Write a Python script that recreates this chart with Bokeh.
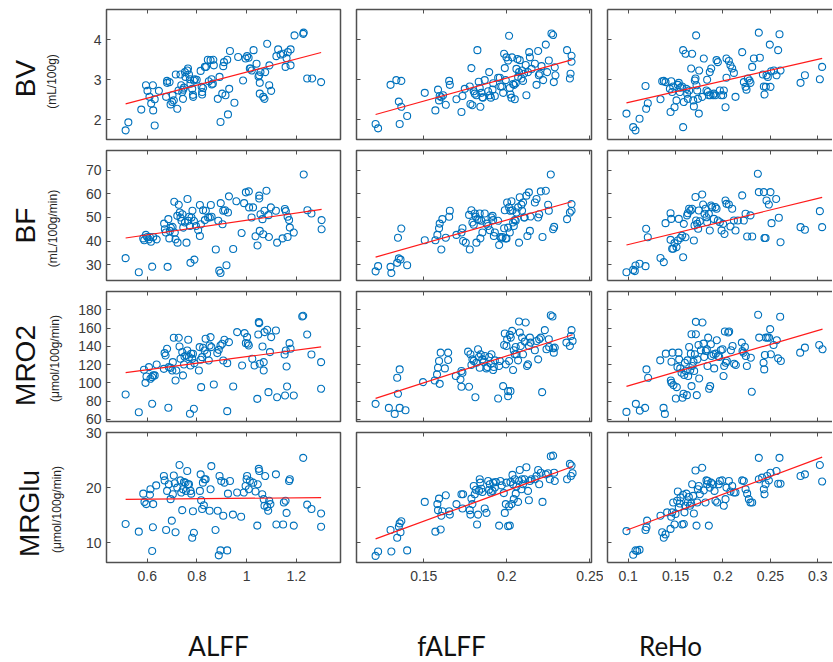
import numpy as np
from bokeh.plotting import figure
from bokeh.models import Range1d, LinearAxis, FixedTicker, CustomLabelingPolicy
from bokeh.layouts import row, column
from bokeh.core.properties import value
from bokeh.embed import file_html
from bokeh.resources import INLINE

# ---------------- labels / ticks ----------------
row_names = ["BV", "BF", "MRO2", "MRGlu"]
row_units = ["(mL/100g)", "(mL/100g/min)", "(\u03bcmol/100g/min)", "(\u03bcmol/100g/min)"]
col_names = ["ALFF", "fALFF", "ReHo"]

x_ticks = [[0.6, 0.8, 1.0, 1.2], [0.15, 0.2, 0.25], [0.1, 0.15, 0.2, 0.25, 0.3]]
x_tick_labels = [["0.6", "0.8", "1", "1.2"], ["0.15", "0.2", "0.25"], ["0.1", "0.15", "0.2", "0.25", "0.3"]]
y_ticks = [[2, 3, 4], [30, 40, 50, 60, 70], [60, 80, 100, 120, 140, 160, 180], [10, 20, 30]]
y_tick_labels = [["2", "3", "4"], ["30", "40", "50", "60", "70"],
                 ["60", "80", "100", "120", "140", "160", "180"], ["10", "20", "30"]]
x_limits = [(0.436, 1.378), (0.1095, 0.251), (0.0782, 0.3155)]
y_limits = [(1.5, 4.76), (23.2, 78.5), (57.8, 200.0), (6.4, 30.0)]

# ---------------- data: row BV ----------------
bv_alff_x = [0.513,0.524,0.576,0.595,0.601,0.609,0.616,0.623,0.624,0.630,
             0.630,0.647,0.676,0.680,0.680,0.690,0.694,0.701,0.702,0.707,
             0.715,0.721,0.726,0.734,0.737,0.741,0.744,0.745,0.748,0.752,
             0.754,0.761,0.764,0.768,0.772,0.774,0.781,0.784,0.785,0.788,
             0.792,0.799,0.815,0.819,0.821,0.821,0.825,0.832,0.837,0.844,
             0.848,0.855,0.859,0.860,0.864,0.866,0.868,0.884,0.891,0.895,
             0.902,0.906,0.909,0.915,0.922,0.925,0.930,0.933,0.951,0.966,
             0.986,0.996,1.002,1.008,1.013,1.016,1.021,1.028,1.040,1.048,
             1.051,1.053,1.053,1.056,1.067,1.072,1.075,1.083,1.091,1.092,
             1.099,1.120,1.127,1.137,1.147,1.157,1.161,1.166,1.177,1.177,
             1.193,1.228,1.230,1.244,1.264,1.300]
bv_alff_y = [1.73,1.93,2.25,2.86,2.72,2.57,2.40,2.86,2.23,2.51,
             1.85,2.72,2.57,2.97,2.92,2.94,2.38,2.44,2.61,2.48,
             3.13,2.27,2.73,3.13,2.86,2.69,2.52,2.75,2.80,3.19,
             3.07,3.23,3.28,3.13,3.01,2.90,2.77,2.62,2.57,2.98,
             3.01,3.00,3.22,2.82,2.69,2.63,2.79,3.32,3.32,3.50,
             2.96,3.49,3.01,2.88,2.90,3.50,3.36,2.52,3.07,1.94,
             2.65,3.34,3.44,2.61,3.50,2.13,2.77,3.72,2.42,3.57,
             2.98,3.53,3.59,3.55,3.28,3.28,3.23,3.74,3.40,3.08,
             3.11,2.92,2.65,3.19,2.57,2.52,3.19,3.90,2.86,3.36,
             2.72,3.59,3.76,3.63,3.65,3.32,3.54,3.69,3.36,3.76,
             4.11,4.15,4.18,3.03,3.03,2.94]

bv_falff_x = [0.121,0.1225,0.130,0.1335,0.135,0.1355,0.1365,0.1365,0.140,0.1506,
              0.157,0.1586,0.1592,0.1596,0.1606,0.1616,0.1633,0.1653,0.1657,0.1697,
              0.1727,0.1733,0.1747,0.1777,0.1781,0.1787,0.1793,0.1801,0.1807,0.1817,
              0.1823,0.1831,0.1837,0.1841,0.1847,0.1853,0.1857,0.1867,0.1888,0.1894,
              0.1898,0.1904,0.1914,0.1918,0.1928,0.1948,0.1958,0.1962,0.1972,0.1978,
              0.1984,0.1988,0.1994,0.1998,0.2008,0.2014,0.2018,0.2022,0.2028,0.2032,
              0.2038,0.2044,0.2048,0.2054,0.2058,0.2064,0.2068,0.2074,0.2078,0.2088,
              0.2092,0.2098,0.2104,0.2114,0.2118,0.2128,0.2135,0.2139,0.2149,0.2169,
              0.2179,0.2189,0.2193,0.2199,0.2209,0.2219,0.2235,0.2243,0.2253,0.2269,
              0.2279,0.2283,0.2289,0.2293,0.2363,0.2380,0.2384,0.2390,0.2390]
bv_falff_y = [1.89,1.78,2.87,2.99,2.45,1.89,2.97,2.32,2.09,2.67,
              2.23,2.75,2.48,2.59,2.56,2.61,2.37,2.97,2.87,2.51,
              2.19,2.59,2.77,2.83,2.39,3.29,2.36,2.71,2.65,2.61,
              3.74,2.95,2.79,2.32,2.67,2.56,2.55,2.99,2.71,3.19,
              2.61,2.55,2.75,2.91,2.59,3.05,3.05,2.83,2.83,2.67,
              3.65,3.29,2.99,3.56,3.48,4.10,2.79,2.63,2.55,3.56,
              2.89,2.87,2.51,2.91,3.27,3.52,3.07,3.19,3.49,3.03,
              3.23,2.97,3.15,3.37,2.61,3.19,3.69,3.56,3.27,3.40,
              2.87,3.72,3.11,3.15,3.34,2.99,3.88,3.19,3.48,4.16,
              4.12,2.94,3.31,3.11,3.74,3.03,3.15,3.60,3.45]

bv_reho_x = [0.0982,0.1053,0.1077,0.112,0.1183,0.119,0.1207,0.1341,0.1359,0.1376,
             0.1394,0.144,0.1447,0.1454,0.1464,0.1475,0.1489,0.151,0.1524,0.1534,
             0.1545,0.1552,0.157,0.158,0.158,0.1587,0.1605,0.1615,0.1622,0.1629,
             0.1643,0.1665,0.1675,0.1686,0.1693,0.1703,0.171,0.1717,0.1721,0.1728,
             0.1735,0.1745,0.1749,0.1781,0.1798,0.1826,0.1833,0.184,0.1851,0.1861,
             0.1868,0.1876,0.1897,0.1904,0.1921,0.1932,0.1946,0.1967,0.1981,0.2002,
             0.2009,0.2027,0.2037,0.2037,0.2062,0.2079,0.2097,0.2115,0.2132,0.2203,
             0.222,0.2238,0.2248,0.2262,0.228,0.229,0.2308,0.2326,0.2378,0.2389,
             0.2421,0.2431,0.2438,0.2452,0.2459,0.2473,0.2494,0.2501,0.2508,0.2537,
             0.2565,0.2582,0.2596,0.2607,0.2818,0.2864,0.3022,0.3046]
bv_reho_y = [2.15,1.81,1.73,2.02,2.84,2.27,2.41,2.51,2.96,2.97,
             2.94,2.77,2.19,2.96,2.69,2.83,2.31,2.48,2.87,2.92,
             2.69,2.80,2.83,3.74,1.81,2.44,3.65,2.77,2.65,2.52,
             2.73,3.28,3.65,2.48,2.33,2.98,3.03,4.11,2.86,2.73,
             2.52,2.15,3.23,2.57,3.53,2.73,3.00,2.69,2.61,3.19,
             2.61,3.28,2.61,2.65,2.61,3.49,3.44,2.73,2.61,2.61,
             2.73,2.31,3.53,3.05,3.47,3.36,3.28,3.17,2.57,3.69,
             2.94,2.82,2.75,3.03,2.98,2.92,3.32,3.53,4.18,3.55,
             3.13,2.83,2.63,2.82,3.11,3.07,3.88,2.82,3.21,3.23,
             3.11,3.74,4.14,3.23,2.92,3.11,3.01,3.32]

# ---------------- data: row BF ----------------
bf_alff_x = [0.513,0.566,0.584,0.588,0.595,0.600,0.607,0.611,0.615,0.620,
             0.624,0.638,0.668,0.671,0.675,0.682,0.685,0.689,0.691,0.695,
             0.702,0.709,0.711,0.714,0.721,0.722,0.727,0.731,0.734,0.738,
             0.742,0.745,0.752,0.758,0.762,0.765,0.769,0.772,0.774,0.778,
             0.782,0.788,0.790,0.796,0.805,0.812,0.812,0.816,0.825,0.832,
             0.836,0.845,0.852,0.856,0.859,0.876,0.886,0.890,0.895,0.896,
             0.903,0.906,0.913,0.919,0.925,0.929,0.946,0.959,0.980,0.990,
             0.997,1.009,1.010,1.020,1.026,1.036,1.044,1.051,1.051,1.053,
             1.056,1.064,1.067,1.072,1.080,1.088,1.090,1.098,1.118,1.123,
             1.145,1.154,1.158,1.165,1.165,1.171,1.174,1.190,1.230,1.245,
             1.261,1.302,1.302]
bf_alff_y = [32.7,26.7,41.1,40.3,42.6,41.7,40.7,41.7,39.7,29.1,
             41.7,40.7,47.4,45.0,43.6,29.0,49.3,41.1,44.3,45.7,
             46.0,56.7,43.6,40.7,50.7,39.3,55.4,52.1,50.0,48.6,
             51.4,45.7,47.9,39.3,57.9,48.6,50.3,46.4,30.7,50.0,
             52.9,48.6,32.1,46.4,44.6,55.3,42.1,47.1,53.1,48.9,
             52.9,50.0,50.0,55.3,50.3,36.4,48.6,27.4,26.4,56.1,
             47.1,52.9,53.1,29.7,52.1,59.0,36.6,56.9,43.4,56.1,
             60.7,61.1,54.3,50.0,54.3,42.0,38.1,59.3,58.1,44.3,
             51.4,49.3,42.9,52.9,61.4,51.0,41.7,54.3,52.9,39.3,
             41.1,53.6,52.7,50.3,41.7,48.9,45.7,43.6,68.3,53.1,
             51.7,48.9,45.0]

bf_falff_x = [0.121,0.1225,0.130,0.1305,0.1345,0.134,0.135,0.136,0.1365,0.140,
              0.1506,0.157,0.1582,0.1592,0.1596,0.1606,0.1612,0.1633,0.1653,0.1657,
              0.1697,0.1727,0.1733,0.1737,0.1753,0.1777,0.1773,0.1787,0.1793,0.1801,
              0.1807,0.1813,0.1817,0.1823,0.1833,0.1837,0.1841,0.1847,0.1853,0.1867,
              0.1878,0.1888,0.1898,0.1908,0.1914,0.1918,0.1922,0.1928,0.1948,0.1954,
              0.1962,0.1968,0.1974,0.1984,0.1988,0.1994,0.1998,0.2002,0.2008,0.2014,
              0.2018,0.2022,0.2028,0.2034,0.2038,0.2042,0.2048,0.2054,0.2058,0.2068,
              0.2074,0.2078,0.2088,0.2092,0.2098,0.2104,0.2108,0.2118,0.2124,0.2133,
              0.2139,0.2143,0.2169,0.2179,0.2189,0.2195,0.2205,0.2215,0.2235,0.2249,
              0.2253,0.2265,0.2279,0.2285,0.2363,0.2380,0.2390,0.2390]
bf_falff_y = [27.1,29.3,29.0,26.4,41.4,30.7,32.6,32.1,45.3,29.7,
              40.3,40.3,42.6,45.4,47.4,36.4,49.3,41.4,50.3,52.9,
              42.6,43.6,45.4,40.0,39.3,36.4,51.1,53.1,47.9,46.9,
              51.7,50.3,39.3,49.3,48.9,51.7,41.1,48.6,43.6,51.7,
              47.4,46.4,44.6,50.0,50.7,48.9,42.1,43.6,48.6,38.3,
              41.7,41.1,41.7,45.4,53.1,41.1,41.1,56.4,45.7,54.3,
              43.6,52.9,56.9,53.1,47.9,46.4,48.9,48.6,52.1,54.3,
              39.3,58.6,55.4,52.9,56.4,50.0,50.0,59.3,42.1,60.7,
              44.3,50.4,56.4,57.9,50.0,51.4,61.1,41.7,61.4,55.4,
              52.9,68.3,45.0,46.0,49.3,52.1,55.7,52.9]

bf_reho_x = [0.0982,0.1053,0.107,0.1077,0.112,0.1183,0.119,0.1207,0.1341,0.1376,
             0.1394,0.1447,0.1454,0.1447,0.1464,0.1475,0.1489,0.151,0.1524,0.1534,
             0.1552,0.157,0.158,0.1587,0.1605,0.1622,0.1629,0.1643,0.1658,0.1675,
             0.1693,0.170,0.171,0.1717,0.1728,0.1738,0.1745,0.1756,0.1781,0.1791,
             0.1805,0.1816,0.1826,0.1833,0.1851,0.1861,0.1876,0.1886,0.1904,0.1921,
             0.1932,0.1946,0.1967,0.1985,0.2002,0.2016,0.2027,0.2037,0.2062,0.2079,
             0.2097,0.2115,0.2132,0.2157,0.2203,0.222,0.2238,0.2255,0.229,0.2308,
             0.2368,0.2378,0.2431,0.2438,0.2449,0.2459,0.2484,0.2501,0.2512,0.2561,
             0.2589,0.2607,0.2818,0.2864,0.3022,0.3046]
bf_reho_y = [26.7,27.7,27.2,29.6,30.3,29.3,45.2,41.6,32.8,31.0,
             47.6,51.8,49.4,40.5,36.7,36.7,39.1,37.4,40.2,49.4,
             41.3,42.3,33.1,47.3,41.6,50.9,51.8,53.7,53.0,53.7,
             40.2,46.6,58.7,48.7,47.3,45.2,53.0,48.4,59.8,55.5,
             51.6,53.7,50.1,48.0,51.6,44.5,55.1,54.4,49.4,54.4,
             53.7,48.7,48.0,44.5,47.3,43.0,57.2,55.8,55.5,46.2,
             53.7,48.7,44.5,48.7,59.4,48.7,51.6,41.9,50.9,41.9,
             68.6,60.8,60.8,41.3,41.3,57.2,55.5,60.8,47.6,57.9,
             49.9,39.5,45.9,44.8,52.7,45.9]

# ---------------- data: row MRO2 ----------------
mro2_alff_x = [0.513,0.566,0.587,0.593,0.597,0.607,0.613,0.620,0.620,0.624,
               0.630,0.638,0.667,0.670,0.674,0.680,0.685,0.687,0.694,0.701,
               0.703,0.707,0.714,0.717,0.727,0.730,0.734,0.741,0.744,0.748,
               0.750,0.757,0.761,0.765,0.768,0.772,0.774,0.777,0.781,0.784,
               0.788,0.790,0.808,0.811,0.815,0.817,0.821,0.825,0.831,0.835,
               0.841,0.848,0.851,0.855,0.858,0.868,0.882,0.888,0.895,0.902,
               0.906,0.911,0.922,0.922,0.929,0.946,0.962,0.982,0.992,0.997,
               1.002,1.005,1.009,1.023,1.032,1.043,1.047,1.049,1.051,1.053,
               1.064,1.069,1.069,1.072,1.083,1.088,1.094,1.099,1.118,1.123,
               1.153,1.155,1.158,1.161,1.163,1.173,1.177,1.190,1.224,1.228,
               1.244,1.261,1.300,1.300]
mro2_alff_y = [87.4,68.0,114.4,100.1,107.1,117.3,104.5,106.3,77.2,108.2,
               108.2,120.2,115.4,132.6,130.0,137.3,72.8,117.3,116.5,113.6,
               122.7,149.4,102.7,113.6,149.4,139.9,126.4,133.7,108.2,120.2,
               128.9,130.0,135.5,147.2,128.2,66.2,119.1,131.9,126.4,131.9,
               71.7,121.6,113.6,139.2,125.3,95.4,128.2,138.4,135.5,148.3,
               131.9,124.6,141.0,150.1,139.2,98.3,132.6,136.2,141.0,142.8,
               124.6,147.2,121.6,69.1,144.6,96.1,155.6,119.1,154.5,143.5,
               150.1,142.8,141.0,126.4,119.1,82.6,153.0,166.5,165.4,120.9,
               139.9,113.6,122.7,155.6,158.1,89.9,133.7,150.1,157.4,84.4,
               131.1,86.3,135.5,118.0,96.1,143.5,137.3,86.3,172.7,173.4,
               153.0,131.1,122.7,93.6]

mro2_falff_x = [0.121,0.129,0.1325,0.134,0.1345,0.1355,0.1355,0.139,0.1496,0.1566,
                0.158,0.1586,0.1592,0.1596,0.1602,0.1627,0.1647,0.1647,0.1693,0.1721,
                0.1727,0.1733,0.1727,0.1773,0.1767,0.1781,0.1787,0.1793,0.1801,0.1811,
                0.1817,0.1827,0.1833,0.1837,0.1843,0.1853,0.1861,0.1867,0.1878,0.1884,
                0.1894,0.1904,0.1908,0.1918,0.1922,0.1928,0.1948,0.1954,0.1958,0.1978,
                0.1984,0.1988,0.1994,0.1998,0.2002,0.2008,0.2008,0.2014,0.2018,0.2022,
                0.2024,0.2032,0.2038,0.2042,0.2048,0.2054,0.2058,0.2068,0.2074,0.2078,
                0.2084,0.2092,0.2098,0.2108,0.2114,0.2122,0.2128,0.2133,0.2139,0.2143,
                0.2169,0.2179,0.2189,0.2195,0.2205,0.2213,0.2229,0.2239,0.2253,0.2255,
                0.2265,0.2275,0.2279,0.2283,0.2289,0.2359,0.2380,0.2386,0.2390,0.2396]
mro2_falff_y = [77.1,72.7,66.1,105.6,88.1,114.8,72.7,70.1,100.9,102.7,
                109.3,116.6,124.0,99.0,133.1,115.9,133.1,125.1,107.5,103.8,
                113.0,111.1,95.8,95.8,134.2,131.3,119.6,125.8,124.0,84.4,
                122.1,136.8,128.4,116.6,131.3,125.8,123.2,129.5,115.9,117.4,
                128.4,121.0,131.3,114.1,117.4,124.7,82.9,118.5,124.0,96.5,
                141.5,154.0,120.3,140.4,147.8,91.0,85.5,124.0,152.5,91.0,
                149.6,156.9,114.1,135.7,131.3,139.3,131.3,124.7,167.2,155.1,
                140.4,149.6,131.3,145.2,166.1,118.5,120.3,140.4,149.6,144.1,
                135.7,145.9,125.8,147.8,149.6,89.9,157.7,136.8,147.8,139.3,
                174.1,172.7,137.9,133.1,138.6,144.1,140.4,151.4,157.7,145.9]

mro2_reho_x = [0.0982,0.1081,0.1123,0.1179,0.1193,0.1211,0.1338,0.1373,0.1387,0.1397,
               0.145,0.1457,0.1457,0.1468,0.1478,0.1503,0.1513,0.152,0.1531,0.1538,
               0.1549,0.1563,0.1573,0.1584,0.1591,0.1598,0.1608,0.1619,0.1626,0.1633,
               0.1643,0.1654,0.1661,0.1668,0.1668,0.1679,0.1689,0.1696,0.1703,0.1714,
               0.1714,0.1724,0.1731,0.1742,0.1749,0.1767,0.1784,0.1795,0.1802,0.1819,
               0.183,0.1837,0.1844,0.1854,0.1865,0.1872,0.1879,0.19,0.1907,0.1925,
               0.1935,0.1949,0.196,0.1977,0.1995,0.2006,0.2013,0.202,0.203,0.2041,
               0.2055,0.2065,0.2083,0.2101,0.2118,0.2136,0.2199,0.2206,0.2217,0.2231,
               0.2241,0.2252,0.2294,0.2304,0.2371,0.2382,0.2428,0.2435,0.2442,0.2452,
               0.247,0.2487,0.2498,0.2505,0.2533,0.2568,0.2582,0.2603,0.261,0.2814,
               0.2864,0.3015,0.305]
mro2_reho_y = [68.3,77.1,69.7,72.7,114.8,105.6,124.7,72.7,66.1,132.0,
               102.7,100.1,123.2,133.1,97.6,82.9,95.4,117.4,133.1,125.8,
               115.9,111.1,83.7,88.1,108.6,122.1,113.0,86.6,124.7,107.5,
               139.3,113.7,132.0,153.3,96.5,118.5,123.2,113.0,131.3,166.8,
               153.3,86.6,125.8,141.5,104.9,135.7,166.1,143.0,128.4,134.9,
               136.8,118.5,149.6,93.6,96.5,142.3,129.5,131.3,115.9,132.0,
               146.7,129.5,128.4,135.7,136.8,107.5,118.5,156.2,122.1,124.0,
               155.1,156.2,135.7,140.4,121.0,119.6,144.1,134.9,133.1,139.3,
               129.5,118.5,127.6,90.3,174.5,149.6,122.1,114.8,130.5,149.6,
               149.6,149.6,158.8,131.3,141.5,146.7,126.9,172.3,124.0,133.1,
               138.6,141.5,136.8]

# ---------------- data: row MRGlu ----------------
mrglu_alff_x = [0.513,0.566,0.584,0.589,0.596,0.611,0.613,0.620,0.623,0.624,
                0.636,0.667,0.670,0.676,0.680,0.687,0.694,0.699,0.703,0.707,
                0.711,0.714,0.721,0.730,0.734,0.737,0.741,0.744,0.748,0.754,
                0.756,0.761,0.764,0.768,0.774,0.777,0.781,0.784,0.788,0.812,
                0.815,0.817,0.821,0.824,0.828,0.831,0.835,0.851,0.855,0.858,
                0.875,0.884,0.888,0.891,0.895,0.898,0.906,0.911,0.922,0.925,
                0.933,0.945,0.962,0.978,0.989,0.996,1.000,1.002,1.009,1.013,
                1.027,1.036,1.043,1.045,1.049,1.051,1.063,1.069,1.072,1.075,
                1.083,1.087,1.091,1.096,1.118,1.120,1.147,1.150,1.157,1.161,
                1.171,1.174,1.190,1.228,1.244,1.261,1.300,1.300]
mrglu_alff_y = [13.4,12.0,18.9,17.4,17.0,18.7,19.7,8.5,12.8,17.0,
                20.4,22.1,21.3,12.3,19.4,20.6,17.9,14.0,18.8,22.2,
                20.8,11.9,20.0,24.1,21.3,19.1,15.9,19.7,21.0,20.9,
                19.4,23.0,20.6,20.6,19.4,18.9,10.9,15.7,11.8,19.4,
                22.4,17.7,16.1,20.9,16.8,21.5,21.5,15.8,19.7,23.9,
                12.3,15.8,7.7,22.1,8.6,21.2,14.9,20.9,8.6,18.9,
                21.2,15.1,19.1,14.7,19.1,20.3,21.5,22.1,19.7,21.2,
                20.9,19.3,13.1,20.6,23.4,23.0,18.8,17.9,16.7,22.1,
                16.5,15.8,17.6,17.0,22.4,13.3,13.3,17.3,17.6,15.4,
                21.2,21.5,13.1,25.4,16.9,16.1,15.3,12.9]

mrglu_falff_x = [0.121,0.1225,0.130,0.1305,0.134,0.135,0.1355,0.136,0.1365,0.140,
                 0.1506,0.157,0.1582,0.1586,0.1592,0.1602,0.1606,0.1612,0.1633,0.1653,
                 0.1657,0.1697,0.1727,0.1733,0.1737,0.1777,0.1781,0.1787,0.1793,0.1801,
                 0.1807,0.1813,0.1821,0.1827,0.1833,0.1837,0.1841,0.1847,0.1853,0.1867,
                 0.1878,0.1888,0.1894,0.1898,0.1904,0.1914,0.1918,0.1928,0.1934,0.1954,
                 0.1962,0.1970,0.1982,0.1988,0.1994,0.1998,0.2008,0.2014,0.2018,0.2022,
                 0.2028,0.2034,0.2038,0.2042,0.2048,0.2054,0.2058,0.2068,0.2074,0.2078,
                 0.2088,0.2092,0.2098,0.2108,0.2118,0.2128,0.2133,0.2139,0.2149,0.2169,
                 0.2179,0.2189,0.2195,0.2205,0.2215,0.2235,0.2249,0.2259,0.2265,0.2279,
                 0.2285,0.2289,0.2363,0.2380,0.2386,0.2390,0.2396]
mrglu_falff_y = [7.6,8.4,12.3,8.4,10.9,12.9,13.5,11.9,13.9,8.6,
                 17.4,12.0,17.0,15.9,18.0,12.4,14.9,15.7,18.6,15.7,
                 15.1,17.0,18.8,16.2,18.8,15.9,15.1,18.0,17.0,20.3,
                 18.8,19.6,13.3,15.1,19.4,21.5,20.9,19.8,19.2,16.2,
                 15.4,21.2,19.6,20.6,19.1,19.4,20.9,20.0,21.0,13.1,
                 21.2,20.4,19.0,15.4,17.0,20.9,13.0,16.6,13.1,21.0,
                 17.0,22.3,20.6,17.9,21.5,18.9,20.2,17.4,21.2,23.2,
                 19.7,21.5,20.6,21.5,23.7,19.4,17.7,21.2,21.5,21.5,
                 22.1,23.2,20.6,22.7,17.4,22.4,22.6,21.5,25.7,25.8,
                 22.7,21.2,21.5,24.3,22.1,24.0,22.6]

mrglu_reho_x = [0.0982,0.1053,0.1077,0.1095,0.112,0.1183,0.1193,0.12,0.1341,0.1359,
                0.1376,0.1394,0.1411,0.1447,0.1454,0.1464,0.1475,0.1489,0.1499,0.1517,
                0.1524,0.1534,0.1545,0.1552,0.157,0.158,0.1587,0.1594,0.1605,0.1615,
                0.1629,0.164,0.1651,0.1665,0.1675,0.1686,0.1693,0.171,0.1721,0.1728,
                0.1735,0.1745,0.1756,0.1781,0.1798,0.1816,0.1826,0.1833,0.184,0.1851,
                0.1861,0.1876,0.1897,0.1911,0.1921,0.1939,0.1956,0.1967,0.1992,0.2009,
                0.2027,0.2037,0.2062,0.2079,0.2097,0.2115,0.2132,0.2203,0.222,0.2238,
                0.2255,0.2273,0.229,0.2308,0.2378,0.2378,0.2413,0.2431,0.2438,0.2449,
                0.2466,0.2484,0.2501,0.2565,0.2582,0.2596,0.2607,0.2818,0.2864,0.3022,
                0.3046]
mrglu_reho_y = [12.1,7.8,8.6,8.5,8.7,12.3,12.8,14.0,14.9,11.9,
                10.9,11.5,15.5,12.5,14.7,15.5,17.3,13.3,15.2,17.6,
                19.3,16.4,17.1,18.2,13.3,18.7,13.4,15.5,16.7,18.9,
                17.3,18.3,16.7,17.1,20.6,18.5,15.3,23.1,13.1,17.3,
                19.7,20.3,18.8,23.6,19.5,17.3,21.3,20.6,21.2,13.1,
                20.0,20.9,20.6,19.4,17.6,17.3,20.6,21.2,21.3,16.7,
                17.9,20.0,21.2,19.3,20.3,19.1,19.1,21.3,21.2,19.7,
                18.9,17.9,17.3,17.3,25.4,21.5,21.8,19.7,18.8,20.6,
                22.1,21.3,22.7,23.0,20.7,25.4,20.7,22.1,22.4,24.1,
                21.1]

panels = [
    [(bv_alff_x, bv_alff_y), (bv_falff_x, bv_falff_y), (bv_reho_x, bv_reho_y)],
    [(bf_alff_x, bf_alff_y), (bf_falff_x, bf_falff_y), (bf_reho_x, bf_reho_y)],
    [(mro2_alff_x, mro2_alff_y), (mro2_falff_x, mro2_falff_y), (mro2_reho_x, mro2_reho_y)],
    [(mrglu_alff_x, mrglu_alff_y), (mrglu_falff_x, mrglu_falff_y), (mrglu_reho_x, mrglu_reho_y)],
]

# ---------------- styling / layout ----------------
BOX = "#505050"
TICK_TXT = "#3a3a3a"
BLUE = "#0072BD"
RED = "#FF1A1A"

LABEL_W = 71
col_widths = [277, 255, 229]
col_borders = [(35, 8), (8, 12), (4, 0)]
row_heights = [144, 141, 141, 166]
row_borders = [(9, 5), (6, 5), (6, 5), (6, 30)]
GRID_H = sum(row_heights)
TOTAL_W = LABEL_W + sum(col_widths)
BOTTOM_H = 68

no_labels = CustomLabelingPolicy(code="return []")


def style_axis(ax, show_labels, line):
    ax.major_tick_in = 4
    ax.major_tick_out = 0
    ax.minor_tick_in = 0
    ax.minor_tick_out = 0
    ax.major_tick_line_color = BOX
    ax.major_tick_line_width = 1
    if line:
        ax.axis_line_color = BOX
        ax.axis_line_width = 1.5
    else:
        ax.axis_line_color = None
    ax.major_label_text_font = "Liberation Sans"
    ax.major_label_text_color = TICK_TXT
    ax.major_label_text_font_size = "14px"
    if not show_labels:
        ax.major_label_policy = no_labels
        ax.major_label_text_font_size = "0px"
        ax.major_label_standoff = 0


def make_panel(r, c):
    xs, ys = panels[r][c]
    assert len(xs) == len(ys), (r, c, len(xs), len(ys))
    p = figure(width=col_widths[c], height=row_heights[r],
               x_range=Range1d(*x_limits[c]), y_range=Range1d(*y_limits[r]),
               x_axis_type=None, y_axis_type=None,
               output_backend="svg", toolbar_location=None,
               min_border_left=col_borders[c][0], min_border_right=col_borders[c][1],
               min_border_top=row_borders[r][0], min_border_bottom=row_borders[r][1])
    p.background_fill_color = "white"
    p.border_fill_color = "white"
    last_col = (c == 2)
    if last_col:
        p.outline_line_color = None
    else:
        p.outline_line_color = BOX
        p.outline_line_width = 1.5
        p.outline_line_alpha = 1.0

    xt = FixedTicker(ticks=x_ticks[c])
    yt = FixedTicker(ticks=y_ticks[r])
    bottom = LinearAxis(ticker=xt, major_label_overrides=dict(zip(x_ticks[c], x_tick_labels[c])))
    style_axis(bottom, r == 3, last_col)
    if r == 3:
        bottom.major_label_standoff = 8
    p.add_layout(bottom, "below")
    top = LinearAxis(ticker=xt)
    style_axis(top, False, last_col)
    p.add_layout(top, "above")
    left = LinearAxis(ticker=yt, major_label_overrides=dict(zip(y_ticks[r], y_tick_labels[r])))
    style_axis(left, c == 0, last_col)
    if c == 0:
        left.major_label_standoff = 5
    p.add_layout(left, "left")

    p.scatter(xs, ys, marker="circle", size=7, fill_color=None,
              line_color=BLUE, line_width=1.1)
    coef = np.polyfit(np.asarray(xs), np.asarray(ys), 1)
    xl = np.array([min(xs), max(xs)])
    p.line(xl, np.polyval(coef, xl), line_color=RED, line_width=1.2)
    return p


grid_rows = []
for r in range(4):
    grid_rows.append(row(*[make_panel(r, c) for c in range(3)]))
grid = column(*grid_rows)

# row labels (page-pixel coordinate space)
lab = figure(width=LABEL_W, height=GRID_H, x_range=Range1d(0, LABEL_W), y_range=Range1d(GRID_H, 0),
             x_axis_type=None, y_axis_type=None, output_backend="svg",
             toolbar_location=None, min_border=0)
lab.outline_line_color = None
lab.text(x=[25, 25, 25, 29], y=[78, 225, 365, 513], text=row_names, angle=np.pi / 2,
         text_font=value("Liberation Sans"), text_font_size="28px",
         text_align="center", text_baseline="middle", text_color="#111111")
lab.text(x=[51, 52, 54, 56], y=[81, 228, 358, 509], text=row_units, angle=np.pi / 2,
         text_font=value("Liberation Sans"), text_font_size="12px",
         text_align="center", text_baseline="middle", text_color="#222222")

# column labels
bot = figure(width=TOTAL_W, height=BOTTOM_H, x_range=Range1d(0, TOTAL_W),
             y_range=Range1d(GRID_H + BOTTOM_H, GRID_H),
             x_axis_type=None, y_axis_type=None, output_backend="svg",
             toolbar_location=None, min_border=0)
bot.outline_line_color = None
bot.text(x=[218, 451, 670], y=[645, 645, 645], text=col_names,
         text_font=value("Lato"), text_font_size="26px",
         text_align="center", text_baseline="middle", text_color="#111111")

layout = column(row(lab, grid), bot)

open("out.html", "w").write(file_html(layout, INLINE))
